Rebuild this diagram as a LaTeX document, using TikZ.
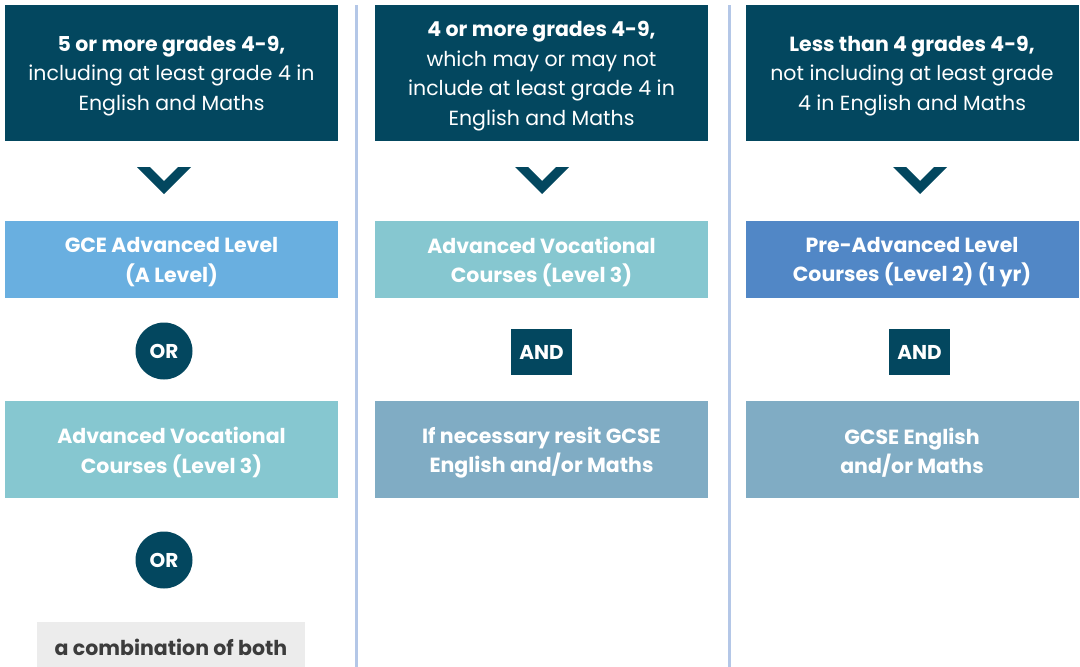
\documentclass[tikz,border=0pt]{standalone}
\usepackage{fontspec}
\setmainfont{Poppins}
\definecolor{navy}{HTML}{03475F}
\definecolor{skyb}{HTML}{69AFE0}
\definecolor{teal}{HTML}{86C7D0}
\definecolor{midb}{HTML}{5187C6}
\definecolor{steel}{HTML}{80ACC4}
\definecolor{greybg}{HTML}{ECECEC}
\definecolor{greytx}{HTML}{3C3C3C}
\definecolor{divider}{HTML}{B4C7E7}
\begin{document}
\begin{tikzpicture}[x=1pt,y=-1pt,
  txt/.style={font=\fontsize{20.5}{29.5}\selectfont, text=white, align=center, inner sep=0pt},
  btxt/.style={txt, font=\fontsize{20.5}{29.5}\selectfont\bfseries},
  topbox/.style={fill=navy, minimum width=333pt, minimum height=136pt, inner sep=0pt},
  midbox/.style={minimum width=333pt, minimum height=77pt, inner sep=0pt},
  lowbox/.style={minimum width=333pt, minimum height=97pt, inner sep=0pt},
  orcirc/.style={circle, fill=navy, minimum size=57pt, inner sep=0pt, text=white, font=\fontsize{20}{22}\selectfont\bfseries},
  andbox/.style={fill=navy, minimum width=61pt, minimum height=46pt, inner sep=0pt, text=white, font=\fontsize{20}{22}\selectfont\bfseries},
  chev/.style={fill=navy},
  divline/.style={draw=divider, line width=3pt}
]
\useasboundingbox (0,0) rectangle (1080,667);
\fill[white] (0,0) rectangle (1080,667);
% dividers
\coordinate (d1t) at (356.5,5); \coordinate (d1b) at (356.5,667);
\coordinate (d2t) at (729,5); \coordinate (d2b) at (729,667);
\draw[divline] (d1t) -- (d1b);
\draw[divline] (d2t) -- (d2b);
% top boxes
\node[topbox] (t1) at (171.5,73) {};
\node[topbox] (t2) at (541.5,73) {};
\node[topbox] (t3) at (912,73) {};
\node[txt, yshift=-3pt] (t1x) at (t1.center) {\textbf{5 or more grades 4-9,}\\including at least grade 4 in\\English and Maths};
\node[txt, yshift=-3pt] (t2x) at (t2.center) {\textbf{4 or more grades 4-9,}\\which may or may not\\include at least grade 4 in\\English and Maths};
\node[txt, yshift=-3pt] (t3x) at (t3.center) {\textbf{Less than 4 grades 4-9,}\\not including at least grade\\4 in English and Maths};
% chevrons
\foreach \cx in {164,542,920}{
  \fill[chev] (\cx-27,167) -- (\cx-14,167) -- (\cx,181) -- (\cx+14,167) -- (\cx+27,167) -- (\cx,194) -- cycle;
}
% second row
\node[midbox, fill=skyb] (m1) at (171.5,259) {};
\node[midbox, fill=teal] (m2) at (541.5,259) {};
\node[midbox, fill=midb] (m3) at (912,259) {};
\node[btxt, yshift=-3pt] (m1x) at (m1.center) {GCE Advanced Level\\(A Level)};
\node[btxt, yshift=-3pt] (m2x) at (m2.center) {Advanced Vocational\\Courses (Level 3)};
\node[btxt, yshift=-3pt] (m3x) at (m3.center) {Pre-Advanced Level\\Courses (Level 2) (1 yr)};
% joining words
\node[orcirc] (or1) at (164,351) {OR};
\node[andbox] (and2) at (541.5,352) {AND};
\node[andbox] (and3) at (919.5,352) {AND};
% third row
\node[lowbox, fill=teal] (l1) at (171.5,449.5) {};
\node[lowbox, fill=steel] (l2) at (541.5,449.5) {};
\node[lowbox, fill=steel] (l3) at (912,449.5) {};
\node[btxt, yshift=-3pt] (l1x) at (l1.center) {Advanced Vocational\\Courses (Level 3)};
\node[btxt, yshift=-3pt] (l2x) at (l2.center) {If necessary resit GCSE\\English and/or Maths};
\node[btxt, yshift=-3pt] (l3x) at (l3.center) {GCSE English\\and/or Maths};
% bottom
\node[orcirc] (or2) at (164,560) {OR};
\fill[greybg] (37,622) rectangle (305,667);
\node[font=\fontsize{20.5}{24}\selectfont\bfseries, text=greytx] (comb) at (171,647) {a combination of both};
\end{tikzpicture}
\end{document}
